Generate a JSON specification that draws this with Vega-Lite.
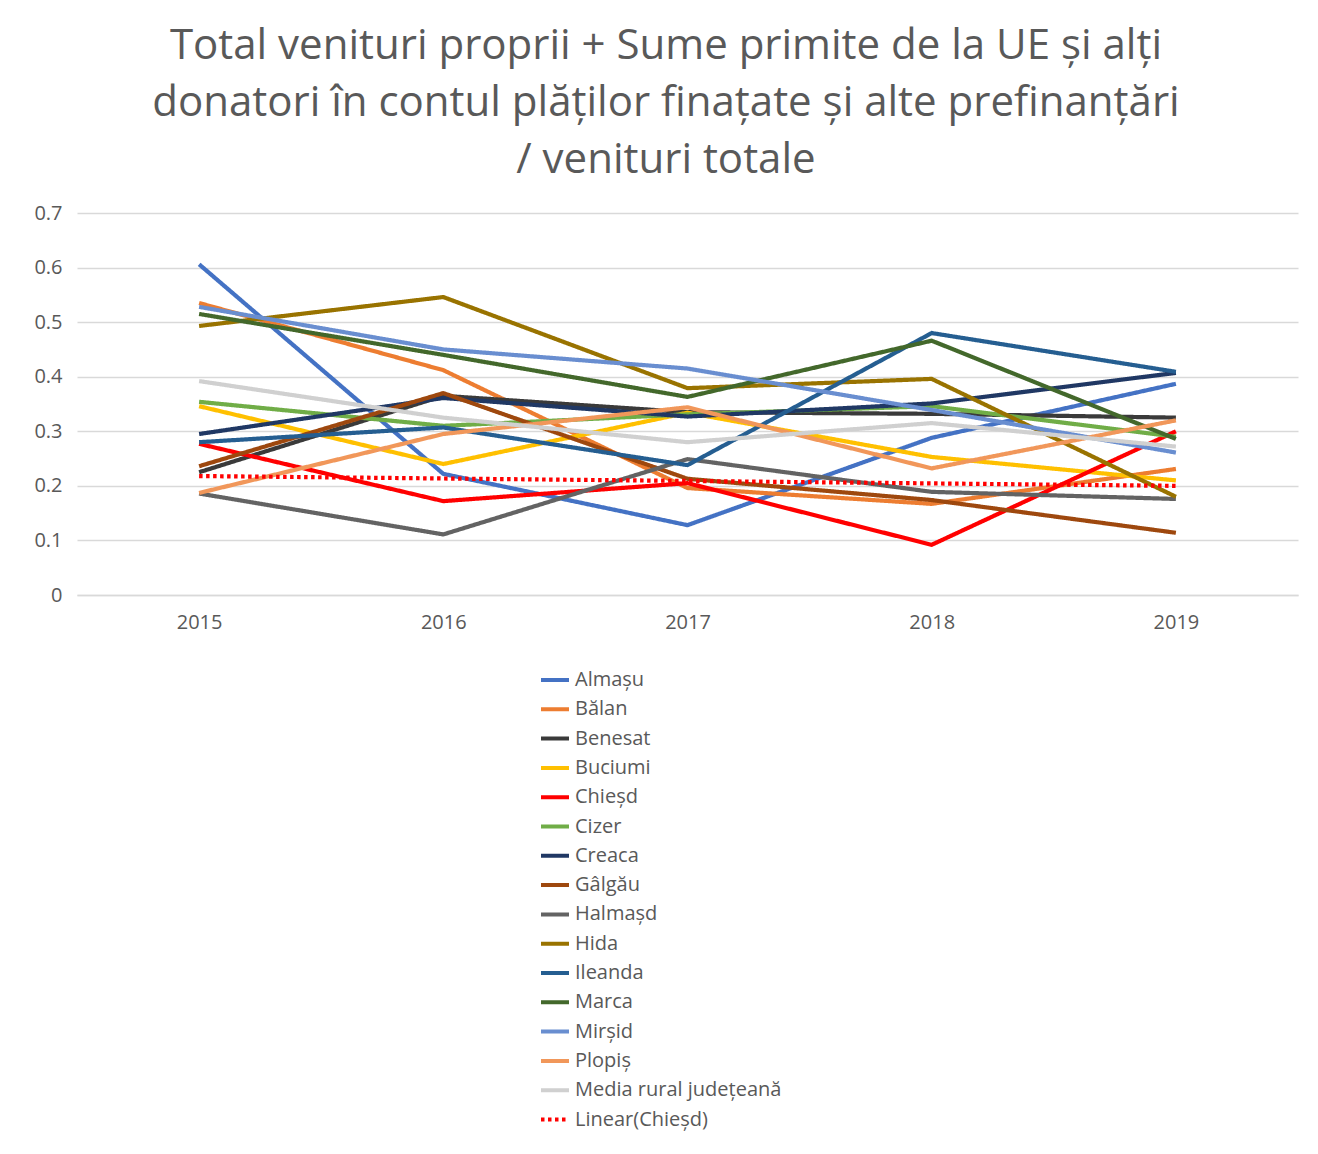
{
  "$schema": "https://vega.github.io/schema/vega-lite/v6.json",
  "autosize": "none",
  "padding": {"left": 77, "top": 213, "right": 20, "bottom": 559},
  "width": 1221,
  "height": 382,
  "background": "white",
  "title": {
    "text": ["Total venituri proprii + Sume primite de la UE și alți", "donatori în contul plăților finațate și alte prefinanțări", "/ venituri totale"],
    "font": "Open Sans",
    "fontSize": 42,
    "fontWeight": "normal",
    "color": "#595959",
    "lineHeight": 57,
    "anchor": "middle",
    "frame": "bounds",
    "offset": 21
  },
  "data": {
    "values": [
      {"s": "Almașu", "an": "2015", "v": 0.606}, {"s": "Almașu", "an": "2016", "v": 0.222}, {"s": "Almașu", "an": "2017", "v": 0.128}, {"s": "Almașu", "an": "2018", "v": 0.288}, {"s": "Almașu", "an": "2019", "v": 0.387},
      {"s": "Bălan", "an": "2015", "v": 0.535}, {"s": "Bălan", "an": "2016", "v": 0.412}, {"s": "Bălan", "an": "2017", "v": 0.196}, {"s": "Bălan", "an": "2018", "v": 0.167}, {"s": "Bălan", "an": "2019", "v": 0.231},
      {"s": "Benesat", "an": "2015", "v": 0.225}, {"s": "Benesat", "an": "2016", "v": 0.365}, {"s": "Benesat", "an": "2017", "v": 0.335}, {"s": "Benesat", "an": "2018", "v": 0.332}, {"s": "Benesat", "an": "2019", "v": 0.325},
      {"s": "Buciumi", "an": "2015", "v": 0.346}, {"s": "Buciumi", "an": "2016", "v": 0.24}, {"s": "Buciumi", "an": "2017", "v": 0.334}, {"s": "Buciumi", "an": "2018", "v": 0.253}, {"s": "Buciumi", "an": "2019", "v": 0.21},
      {"s": "Chieșd", "an": "2015", "v": 0.277}, {"s": "Chieșd", "an": "2016", "v": 0.172}, {"s": "Chieșd", "an": "2017", "v": 0.205}, {"s": "Chieșd", "an": "2018", "v": 0.092}, {"s": "Chieșd", "an": "2019", "v": 0.3},
      {"s": "Cizer", "an": "2015", "v": 0.354}, {"s": "Cizer", "an": "2016", "v": 0.31}, {"s": "Cizer", "an": "2017", "v": 0.331}, {"s": "Cizer", "an": "2018", "v": 0.346}, {"s": "Cizer", "an": "2019", "v": 0.29},
      {"s": "Creaca", "an": "2015", "v": 0.295}, {"s": "Creaca", "an": "2016", "v": 0.361}, {"s": "Creaca", "an": "2017", "v": 0.327}, {"s": "Creaca", "an": "2018", "v": 0.351}, {"s": "Creaca", "an": "2019", "v": 0.407},
      {"s": "Gâlgău", "an": "2015", "v": 0.236}, {"s": "Gâlgău", "an": "2016", "v": 0.37}, {"s": "Gâlgău", "an": "2017", "v": 0.213}, {"s": "Gâlgău", "an": "2018", "v": 0.174}, {"s": "Gâlgău", "an": "2019", "v": 0.114},
      {"s": "Halmașd", "an": "2015", "v": 0.186}, {"s": "Halmașd", "an": "2016", "v": 0.111}, {"s": "Halmașd", "an": "2017", "v": 0.249}, {"s": "Halmașd", "an": "2018", "v": 0.189}, {"s": "Halmașd", "an": "2019", "v": 0.176},
      {"s": "Hida", "an": "2015", "v": 0.493}, {"s": "Hida", "an": "2016", "v": 0.546}, {"s": "Hida", "an": "2017", "v": 0.379}, {"s": "Hida", "an": "2018", "v": 0.396}, {"s": "Hida", "an": "2019", "v": 0.18},
      {"s": "Ileanda", "an": "2015", "v": 0.28}, {"s": "Ileanda", "an": "2016", "v": 0.307}, {"s": "Ileanda", "an": "2017", "v": 0.238}, {"s": "Ileanda", "an": "2018", "v": 0.48}, {"s": "Ileanda", "an": "2019", "v": 0.409},
      {"s": "Marca", "an": "2015", "v": 0.515}, {"s": "Marca", "an": "2016", "v": 0.44}, {"s": "Marca", "an": "2017", "v": 0.363}, {"s": "Marca", "an": "2018", "v": 0.466}, {"s": "Marca", "an": "2019", "v": 0.286},
      {"s": "Mirșid", "an": "2015", "v": 0.528}, {"s": "Mirșid", "an": "2016", "v": 0.45}, {"s": "Mirșid", "an": "2017", "v": 0.415}, {"s": "Mirșid", "an": "2018", "v": 0.339}, {"s": "Mirșid", "an": "2019", "v": 0.261},
      {"s": "Plopiș", "an": "2015", "v": 0.187}, {"s": "Plopiș", "an": "2016", "v": 0.295}, {"s": "Plopiș", "an": "2017", "v": 0.344}, {"s": "Plopiș", "an": "2018", "v": 0.232}, {"s": "Plopiș", "an": "2019", "v": 0.32},
      {"s": "Media rural județeană", "an": "2015", "v": 0.392}, {"s": "Media rural județeană", "an": "2016", "v": 0.325}, {"s": "Media rural județeană", "an": "2017", "v": 0.28}, {"s": "Media rural județeană", "an": "2018", "v": 0.315}, {"s": "Media rural județeană", "an": "2019", "v": 0.272},
      {"s": "Linear(Chieșd)", "an": "2015", "v": 0.218}, {"s": "Linear(Chieșd)", "an": "2019", "v": 0.2}
    ]
  },
  "mark": {"type": "line", "strokeWidth": 4.2, "strokeCap": "butt", "strokeJoin": "miter"},
  "encoding": {
    "x": {
      "field": "an", "type": "ordinal",
      "scale": {"type": "point", "padding": 0.5},
      "axis": {"title": null, "labelAngle": 0, "ticks": false, "labelPadding": 17, "labelFontSize": 20, "labelFont": "Open Sans", "labelColor": "#595959", "domainColor": "#D9D9D9", "domainWidth": 1.3, "grid": false}
    },
    "y": {
      "field": "v", "type": "quantitative",
      "scale": {"domain": [0, 0.7], "nice": false},
      "axis": {"title": null, "values": [0, 0.1, 0.2, 0.3, 0.4, 0.5, 0.6, 0.7], "labelExpr": "datum.value == 0 ? '0' : format(datum.value, '.1f')", "ticks": false, "domain": false, "labelPadding": 15, "labelFontSize": 20, "labelFont": "Open Sans", "labelColor": "#595959", "gridColor": "#D9D9D9", "gridWidth": 1.3}
    },
    "color": {
      "field": "s", "type": "nominal",
      "scale": {
        "domain": ["Almașu", "Bălan", "Benesat", "Buciumi", "Chieșd", "Cizer", "Creaca", "Gâlgău", "Halmașd", "Hida", "Ileanda", "Marca", "Mirșid", "Plopiș", "Media rural județeană", "Linear(Chieșd)"],
        "range": ["#4472C4", "#ED7D31", "#3A3A3A", "#FFC000", "#FF0000", "#70AD47", "#203864", "#9E480E", "#636363", "#997300", "#255E91", "#43682B", "#698ED0", "#F1975A", "#D0D0D0", "#FF0000"]
      },
      "legend": {
        "title": null, "orient": "none", "legendX": 462, "legendY": 451,
        "direction": "vertical", "columns": 1,
        "symbolType": "stroke", "symbolSize": 784, "symbolStrokeWidth": 4,
        "labelFont": "Open Sans", "labelFontSize": 20, "labelColor": "#595959",
        "rowPadding": 3.3, "labelOffset": 4, "labelLimit": 400
      }
    },
    "strokeDash": {
      "field": "s", "type": "nominal",
      "scale": {
        "domain": ["Almașu", "Bălan", "Benesat", "Buciumi", "Chieșd", "Cizer", "Creaca", "Gâlgău", "Halmașd", "Hida", "Ileanda", "Marca", "Mirșid", "Plopiș", "Media rural județeană", "Linear(Chieșd)"],
        "range": [[1, 0], [1, 0], [1, 0], [1, 0], [1, 0], [1, 0], [1, 0], [1, 0], [1, 0], [1, 0], [1, 0], [1, 0], [1, 0], [1, 0], [1, 0], [3.5, 3.5]]
      },
      "legend": {
        "title": null, "orient": "none", "legendX": 462, "legendY": 451,
        "direction": "vertical", "columns": 1,
        "symbolType": "stroke", "symbolSize": 784, "symbolStrokeWidth": 4,
        "labelFont": "Open Sans", "labelFontSize": 20, "labelColor": "#595959",
        "rowPadding": 3.3, "labelOffset": 4, "labelLimit": 400
      }
    }
  },
  "config": {"view": {"stroke": null}}
}
